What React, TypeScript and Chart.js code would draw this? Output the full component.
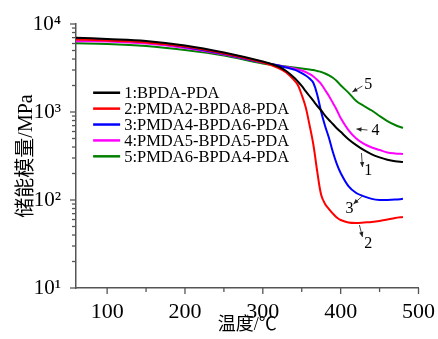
import React, { useEffect, useRef } from 'react';
import { Chart, registerables } from 'chart.js';

Chart.register(...registerables);

// ---- data ----
const temps = [60, 100, 150, 200, 250, 300, 320, 330, 340, 345, 350, 355, 360, 365, 370, 375, 380, 385, 390, 395, 400, 410, 420, 430, 440, 450, 460, 470, 480];

const bpdaPda = [6990, 6750, 6410, 5700, 4750, 3750, 3290, 2920, 2470, 2220, 1975, 1730, 1520, 1334, 1170, 1040, 912, 811, 730, 655, 595, 490, 420, 368, 330, 305, 287, 276, 270];
const pmda2 = [6670, 6490, 6160, 5550, 4620, 3650, 3162, 2810, 2310, 2030, 1560, 1140, 712, 422, 208, 114, 90, 79, 70, 63.3, 59.3, 55.5, 54.8, 55.5, 56.2, 57.7, 60, 62.4, 64.1];
const pmda4 = [6790, 6580, 6240, 5480, 4560, 3650, 3380, 3200, 3040, 2920, 2770, 2600, 2400, 2135, 1560, 1000, 693, 506, 351, 257, 203, 144, 120, 110, 103, 100, 100, 101, 103];
const pmda5 = [6360, 6330, 6000, 5340, 4500, 3650, 3380, 3250, 3120, 3040, 2960, 2850, 2700, 2530, 2310, 2080, 1780, 1520, 1266, 1054, 855, 624, 500, 433, 395, 370, 347, 338, 333];
const pmda6 = [6035, 5930, 5620, 5060, 4385, 3560, 3380, 3290, 3200, 3162, 3120, 3080, 3040, 3000, 2920, 2850, 2740, 2610, 2450, 2250, 2010, 1660, 1334, 1170, 1040, 900, 790, 712, 658];

const seriesValues = [bpdaPda, pmda2, pmda4, pmda5, pmda6];
const seriesLabels = ['1:BPDA-PDA', '2:PMDA2-BPDA8-PDA', '3:PMDA4-BPDA6-PDA', '4:PMDA5-BPDA5-PDA', '5:PMDA6-BPDA4-PDA'];
const seriesColors = ['#000000', '#ff0000', '#0000ff', '#ff00ff', '#008000'];

const xTicks = [100, 150, 200, 250, 300, 350, 400, 450, 500];
const xMajor = [100, 200, 300, 400, 500];
const yTicks = [10, 20, 30, 40, 50, 60, 70, 80, 90, 100, 200, 300, 400, 500, 600, 700, 800, 900, 1000, 2000, 3000, 4000, 5000, 6000, 7000, 8000, 9000, 10000];
const yTickLabels: Record<number, string> = { 10: '10¹', 100: '10²', 1000: '10³', 10000: '10⁴' };

const xTitle = '温度/℃';
const yTitle = '储能模量/MPa';

// legend anchor (data space): left end of first legend line
const legendAnchor: [number, number] = [82, 1656];

// curve annotations: label, text position, arrow start, arrow end (data space)
const annoLabels = ['1', '2', '3', '4', '5'];
const annoText: [number, number][] = [[435.6, 219], [435.6, 32.4], [411.3, 81], [444.6, 624], [435.6, 2080]];
const annoFrom: [number, number][] = [[426.7, 342], [424.1, 52], [428, 111], [434.4, 624], [428, 1974]];
const annoTo: [number, number][] = [[428, 237], [428, 38], [416.4, 90], [420.3, 641], [415, 1687]];

const SERIF = '"Liberation Serif", "Times New Roman", "Noto Sans CJK SC", serif';
const AXIS = '#555555';

export default function App() {
  const ref = useRef<HTMLCanvasElement>(null);

  useEffect(() => {
    const canvas = ref.current;
    if (!canvas) return;

    const datasets = seriesValues.map((vals, i) => ({
      label: seriesLabels[i],
      data: temps.map((t, j) => ({ x: t, y: vals[j] })),
      borderColor: seriesColors[i],
      backgroundColor: seriesColors[i],
      borderWidth: 2,
      pointRadius: 0,
      tension: 0.35,
      fill: false,
    }));

    const overlay = {
      id: 'overlay',
      afterDraw(chart: any) {
        const { ctx, chartArea, scales } = chart;
        const x = scales.x;
        const y = scales.y;
        ctx.save();
        // tick marks
        ctx.strokeStyle = AXIS;
        ctx.lineWidth = 1.3;
        xTicks.forEach((v) => {
          const px = x.getPixelForValue(v);
          const len = xMajor.includes(v) ? 6 : 4;
          ctx.beginPath();
          ctx.moveTo(px, chartArea.bottom);
          ctx.lineTo(px, chartArea.bottom + len);
          ctx.stroke();
        });
        yTicks.forEach((v) => {
          const py = y.getPixelForValue(v);
          const len = yTickLabels[v] ? 6 : 4;
          ctx.beginPath();
          ctx.moveTo(chartArea.left, py);
          ctx.lineTo(chartArea.left - len, py);
          ctx.stroke();
        });

        // legend
        const lx = x.getPixelForValue(legendAnchor[0]);
        const ly0 = y.getPixelForValue(legendAnchor[1]);
        const rowH = 15.9;
        ctx.font = `16.5px ${SERIF}`;
        ctx.textBaseline = 'middle';
        ctx.textAlign = 'left';
        chart.data.datasets.forEach((ds: any, i: number) => {
          const yy = ly0 + i * rowH;
          ctx.strokeStyle = ds.borderColor;
          ctx.lineWidth = 2.5;
          ctx.beginPath();
          ctx.moveTo(lx, yy);
          ctx.lineTo(lx + 27, yy);
          ctx.stroke();
          ctx.fillStyle = '#000';
          ctx.fillText(ds.label, lx + 31, yy + 1);
        });

        // annotations
        ctx.font = `16px ${SERIF}`;
        ctx.textAlign = 'center';
        ctx.textBaseline = 'middle';
        annoLabels.forEach((lab, i) => {
          const tx = x.getPixelForValue(annoText[i][0]);
          const ty = y.getPixelForValue(annoText[i][1]);
          ctx.fillStyle = '#000';
          ctx.fillText(lab, tx, ty + 1);
          const x1 = x.getPixelForValue(annoFrom[i][0]);
          const y1 = y.getPixelForValue(annoFrom[i][1]);
          const x2 = x.getPixelForValue(annoTo[i][0]);
          const y2 = y.getPixelForValue(annoTo[i][1]);
          ctx.strokeStyle = '#333';
          ctx.lineWidth = 0.9;
          ctx.beginPath();
          ctx.moveTo(x1, y1);
          ctx.lineTo(x2, y2);
          ctx.stroke();
          const ang = Math.atan2(y2 - y1, x2 - x1);
          const hl = 5;
          const hw = 2.2;
          ctx.fillStyle = '#222';
          ctx.beginPath();
          ctx.moveTo(x2, y2);
          ctx.lineTo(x2 - hl * Math.cos(ang) + hw * Math.sin(ang), y2 - hl * Math.sin(ang) - hw * Math.cos(ang));
          ctx.lineTo(x2 - hl * Math.cos(ang) - hw * Math.sin(ang), y2 - hl * Math.sin(ang) + hw * Math.cos(ang));
          ctx.closePath();
          ctx.fill();
        });
        ctx.restore();
      },
    };

    const chart = new Chart(canvas, {
      type: 'line',
      data: { datasets },
      options: {
        animation: false,
        responsive: false,
        maintainAspectRatio: false,
        devicePixelRatio: 1,
        layout: { padding: { top: 24, right: 19, left: 0, bottom: 0 } },
        plugins: { legend: { display: false }, tooltip: { enabled: false } },
        scales: {
          x: {
            type: 'linear',
            min: 60,
            max: 500,
            afterBuildTicks: (s: any) => {
              s.ticks = xTicks.map((v) => ({ value: v }));
            },
            afterFit: (s: any) => {
              s.height = 51;
            },
            ticks: {
              autoSkip: false,
              maxRotation: 0,
              padding: 3,
              color: '#000',
              font: { family: SERIF, size: 22 },
              callback: (v: any) => (xMajor.includes(Number(v)) ? String(v) : ''),
            },
            grid: { display: false },
            border: { display: true, color: AXIS, width: 1.5 },
            title: {
              display: true,
              text: xTitle,
              color: '#000',
              font: { family: SERIF, size: 18 },
              padding: { top: 0, bottom: 2.5 },
            },
          },
          y: {
            type: 'logarithmic',
            min: 10,
            max: 10000,
            afterBuildTicks: (s: any) => {
              s.ticks = yTicks.map((v) => ({ value: v }));
            },
            afterFit: (s: any) => {
              s.width = 76;
            },
            ticks: {
              autoSkip: false,
              padding: 7,
              color: '#000',
              font: { family: SERIF, size: 21 },
              callback: (v: any) => yTickLabels[Number(v)] ?? '',
            },
            grid: { display: false },
            border: { display: true, color: AXIS, width: 1.5 },
            title: {
              display: true,
              text: yTitle,
              color: '#000',
              font: { family: SERIF, size: 20 },
              padding: { top: 15, bottom: 0 },
            },
          },
        },
      },
      plugins: [overlay],
    } as any);

    return () => chart.destroy();
  }, []);

  return (
    <div style={{ position: 'fixed', left: 0, top: 0, width: 438, height: 339, background: '#fff' }}>
      <canvas ref={ref} width={438} height={339} style={{ display: 'block', width: 438, height: 339 }} />
    </div>
  );
}
